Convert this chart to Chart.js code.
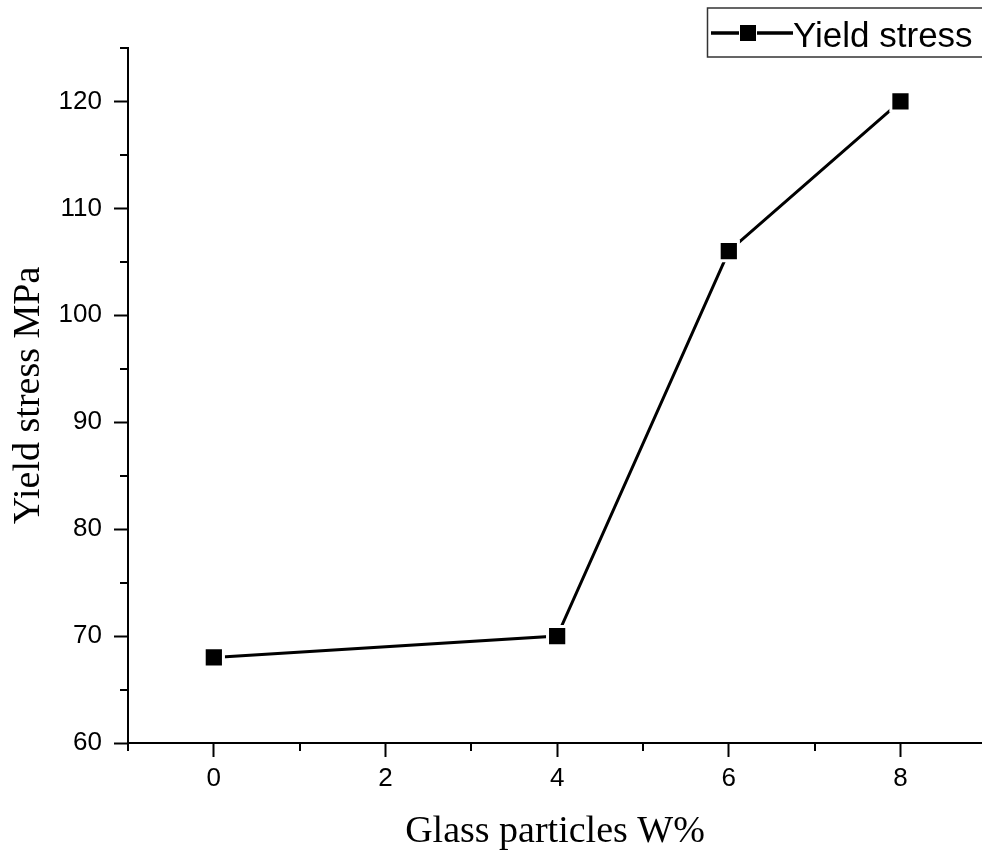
<!DOCTYPE html>
<html>
<head>
<meta charset="utf-8">
<script src="https://cdn.jsdelivr.net/npm/chart.js@4"></script>
<style>
  html, body { margin: 0; padding: 0; background: #fff; }
  canvas { display: block; }
</style>
</head>
<body>
<canvas id="yieldChart" width="982" height="854"></canvas>
<script>
// data
const glassWt = [0, 4, 6, 8];
const yieldStress = [68, 70, 106, 120];
const xMajorTicks = [0, 2, 4, 6, 8];
const xMinorTicks = [-1, 1, 3, 5, 7];
const yMajorTicks = [60, 70, 80, 90, 100, 110, 120];
const yMinorTicks = [65, 75, 85, 95, 105, 115, 125];

const points = glassWt.map((x, i) => ({ x: x, y: yieldStress[i] }));

// short minor ticks, Origin style
const minorTicks = {
  id: 'minorTicks',
  afterDraw(chart) {
    const c = chart.ctx, xs = chart.scales.x, ys = chart.scales.y;
    const area = chart.chartArea;
    c.save();
    c.strokeStyle = '#000';
    c.lineWidth = 2;
    c.beginPath();
    xMinorTicks.forEach(v => {
      const px = Math.round(xs.getPixelForValue(v));
      c.moveTo(px, area.bottom);
      c.lineTo(px, area.bottom + 8);
    });
    yMinorTicks.forEach(v => {
      const py = Math.round(ys.getPixelForValue(v));
      c.moveTo(area.left, py);
      c.lineTo(area.left - 8, py);
    });
    c.stroke();
    c.restore();
  }
};

// boxed legend in the top right corner
const boxLegend = {
  id: 'boxLegend',
  afterDraw(chart) {
    const c = chart.ctx;
    const label = chart.data.datasets[0].label;
    c.save();
    c.strokeStyle = '#333';
    c.lineWidth = 1.5;
    c.strokeRect(707.5, 8, 300, 49);
    c.strokeStyle = '#000';
    c.lineWidth = 3.5;
    c.beginPath();
    c.moveTo(711, 33);
    c.lineTo(739, 33);
    c.moveTo(757, 33);
    c.lineTo(793, 33);
    c.stroke();
    c.fillStyle = '#000';
    c.fillRect(740, 25, 16, 16);
    c.font = '35px "Liberation Sans", Arial, sans-serif';
    c.textBaseline = 'alphabetic';
    c.fillText(label, 793, 47);
    c.restore();
  }
};

const ctx = document.getElementById('yieldChart').getContext('2d');
new Chart(ctx, {
  type: 'line',
  data: {
    datasets: [{
      label: 'Yield stress',
      data: points,
      borderColor: '#000',
      borderWidth: 3,
      pointStyle: 'rect',
      pointRadius: 13.6,
      pointHoverRadius: 13.6,
      pointBackgroundColor: '#000',
      pointBorderColor: '#fff',
      pointBorderWidth: 3,
      tension: 0
    }]
  },
  options: {
    responsive: false,
    devicePixelRatio: 1,
    animation: false,
    layout: { autoPadding: false, padding: { top: 48, right: 0, bottom: 0, left: 0 } },
    plugins: {
      legend: { display: false },
      tooltip: { enabled: false }
    },
    scales: {
      x: {
        type: 'linear',
        min: -1,
        max: 8.95,
        afterBuildTicks: s => { s.ticks = xMajorTicks.map(v => ({ value: v })); },
        afterFit: s => { s.height = 111; s.paddingRight = 0; s.paddingLeft = 0; },
        grid: { drawOnChartArea: false, tickLength: 14, tickWidth: 2, tickColor: '#000' },
        border: { display: true, color: '#000', width: 2 },
        ticks: {
          color: '#000',
          padding: 6,
          maxRotation: 0,
          font: { family: '"Liberation Sans", Arial, sans-serif', size: 26 }
        },
        title: {
          display: true,
          text: 'Glass particles W%',
          color: '#000',
          padding: { top: 0, bottom: 3 },
          font: { family: '"Liberation Serif", "Times New Roman", serif', size: 38, lineHeight: 1 }
        }
      },
      y: {
        type: 'linear',
        min: 60,
        max: 125,
        afterBuildTicks: s => { s.ticks = yMajorTicks.map(v => ({ value: v })); },
        afterFit: s => { s.width = 128; },
        grid: { drawOnChartArea: false, tickLength: 14, tickWidth: 2, tickColor: '#000' },
        border: { display: true, color: '#000', width: 2 },
        ticks: {
          color: '#000',
          padding: 12,
          font: { family: '"Liberation Sans", Arial, sans-serif', size: 26 }
        },
        title: {
          display: true,
          text: 'Yield stress MPa',
          color: '#000',
          padding: { top: 10, bottom: 0 },
          font: { family: '"Liberation Serif", "Times New Roman", serif', size: 38, lineHeight: 1 }
        }
      }
    }
  },
  plugins: [minorTicks, boxLegend]
});
</script>
</body>
</html>
